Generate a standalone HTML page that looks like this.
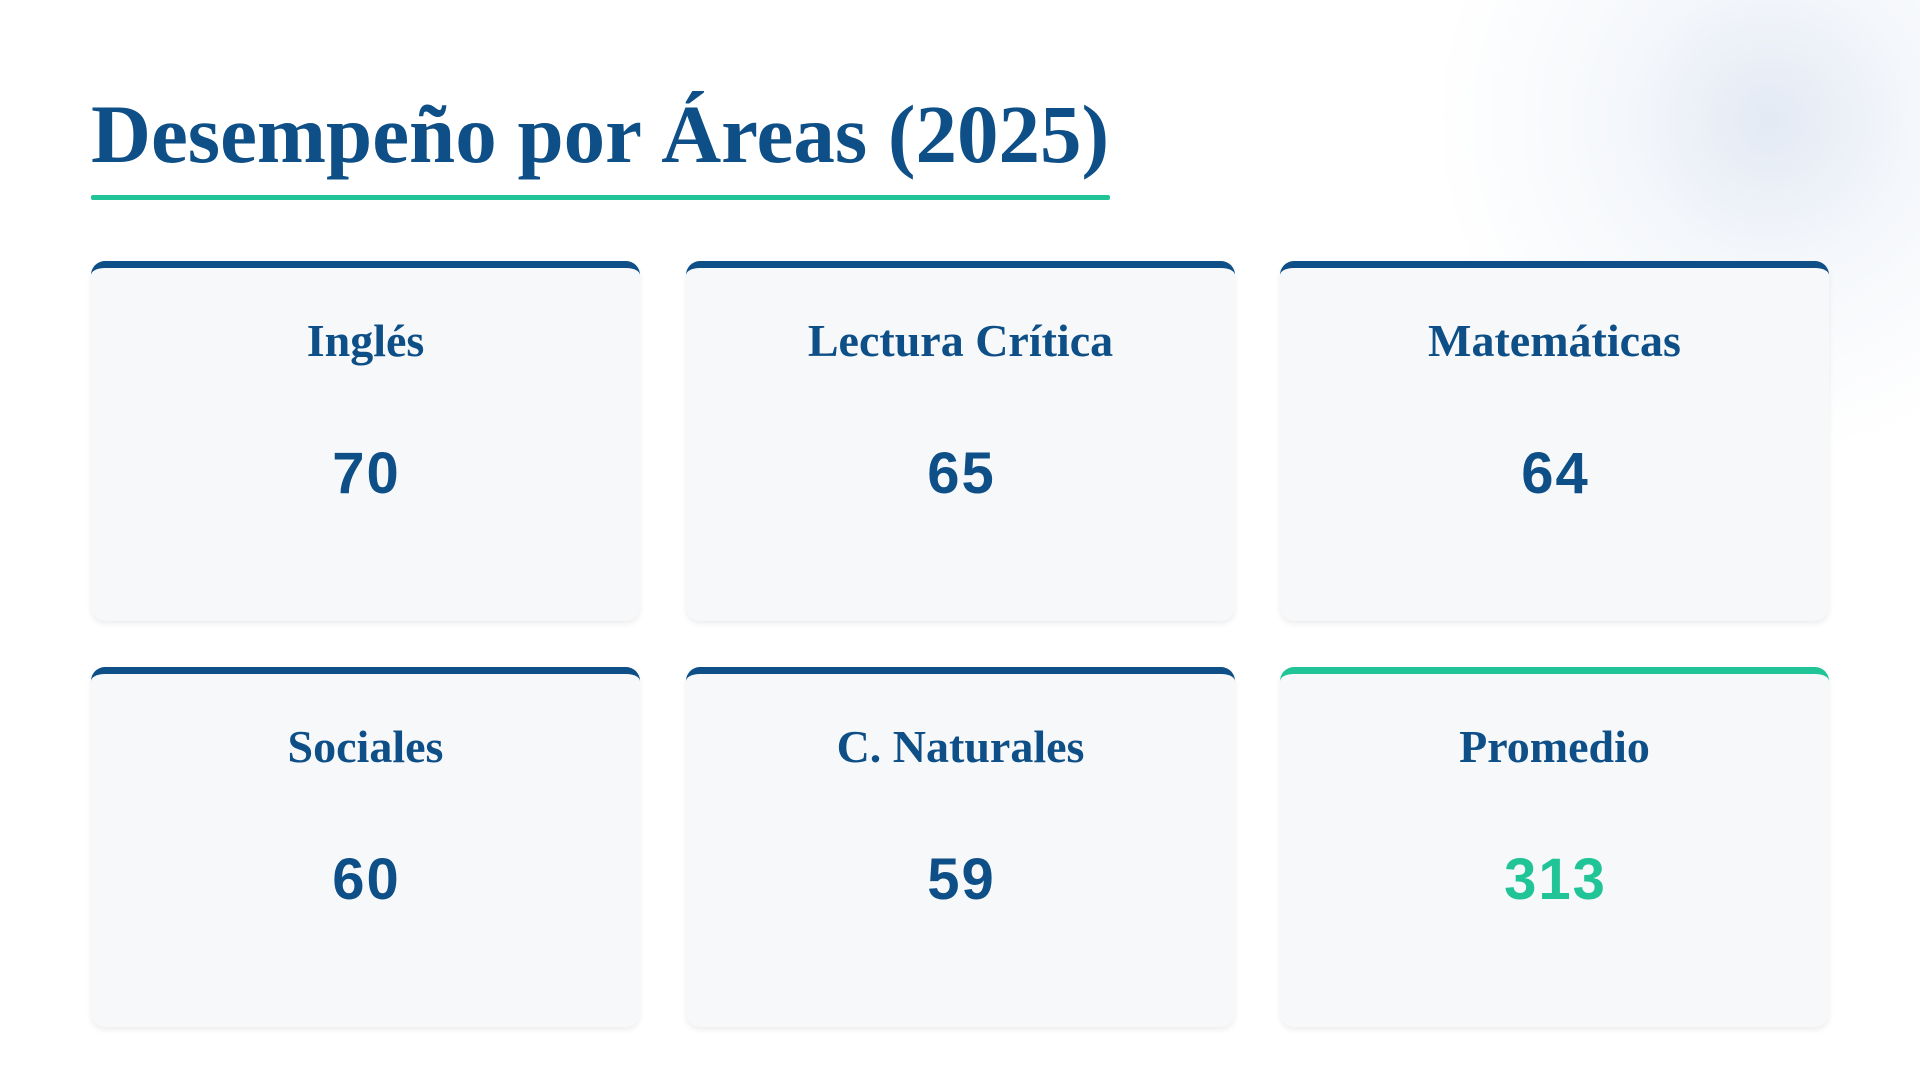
<!DOCTYPE html>
<html><head><meta charset="utf-8"><style>
html,body{margin:0;padding:0}
body{width:1920px;height:1081px;background:#fff;position:relative;overflow:hidden;font-family:"Liberation Sans",sans-serif}
.blob{position:absolute;left:1420px;top:-230px;width:700px;height:700px;border-radius:50%;background:radial-gradient(circle,rgba(222,230,242,0.85) 0%,rgba(236,241,248,0.55) 30%,rgba(255,255,255,0) 68%)}
h1{position:absolute;left:91px;top:84px;margin:0;font-family:"Liberation Serif",serif;font-weight:bold;font-size:83px;line-height:100px;color:#0d4f86}
.ul{position:absolute;left:91px;top:195px;width:1019px;height:5px;background:#20c497;border-radius:2px}
.card{position:absolute;width:549px;height:360px;background:#f6f8fa;border-radius:14px;border-top:7px solid #0d4f86;box-shadow:0 3px 6px rgba(0,0,0,0.07);box-sizing:border-box}
.card.t{border-top-color:#20c497}
.lab{position:absolute;left:0;right:0;top:46px;text-align:center;font-family:"Liberation Serif",serif;font-weight:bold;font-size:46px;color:#0d4f86}
.val{position:absolute;left:0;right:0;top:172px;text-align:center;font-weight:bold;font-size:58px;letter-spacing:2px;text-indent:2px;color:#0d4f86}
.t .val{color:#20c497}
</style></head><body>
<div class="blob"></div>
<h1>Desempeño por Áreas (2025)</h1>
<div class="ul"></div>
<div class="card" style="left:91px;top:261px"><div class="lab">Inglés</div><div class="val">70</div></div>
<div class="card" style="left:686px;top:261px"><div class="lab">Lectura Crítica</div><div class="val">65</div></div>
<div class="card" style="left:1280px;top:261px"><div class="lab">Matemáticas</div><div class="val">64</div></div>
<div class="card" style="left:91px;top:667px"><div class="lab">Sociales</div><div class="val">60</div></div>
<div class="card" style="left:686px;top:667px"><div class="lab">C. Naturales</div><div class="val">59</div></div>
<div class="card t" style="left:1280px;top:667px"><div class="lab">Promedio</div><div class="val">313</div></div>
</body></html>
